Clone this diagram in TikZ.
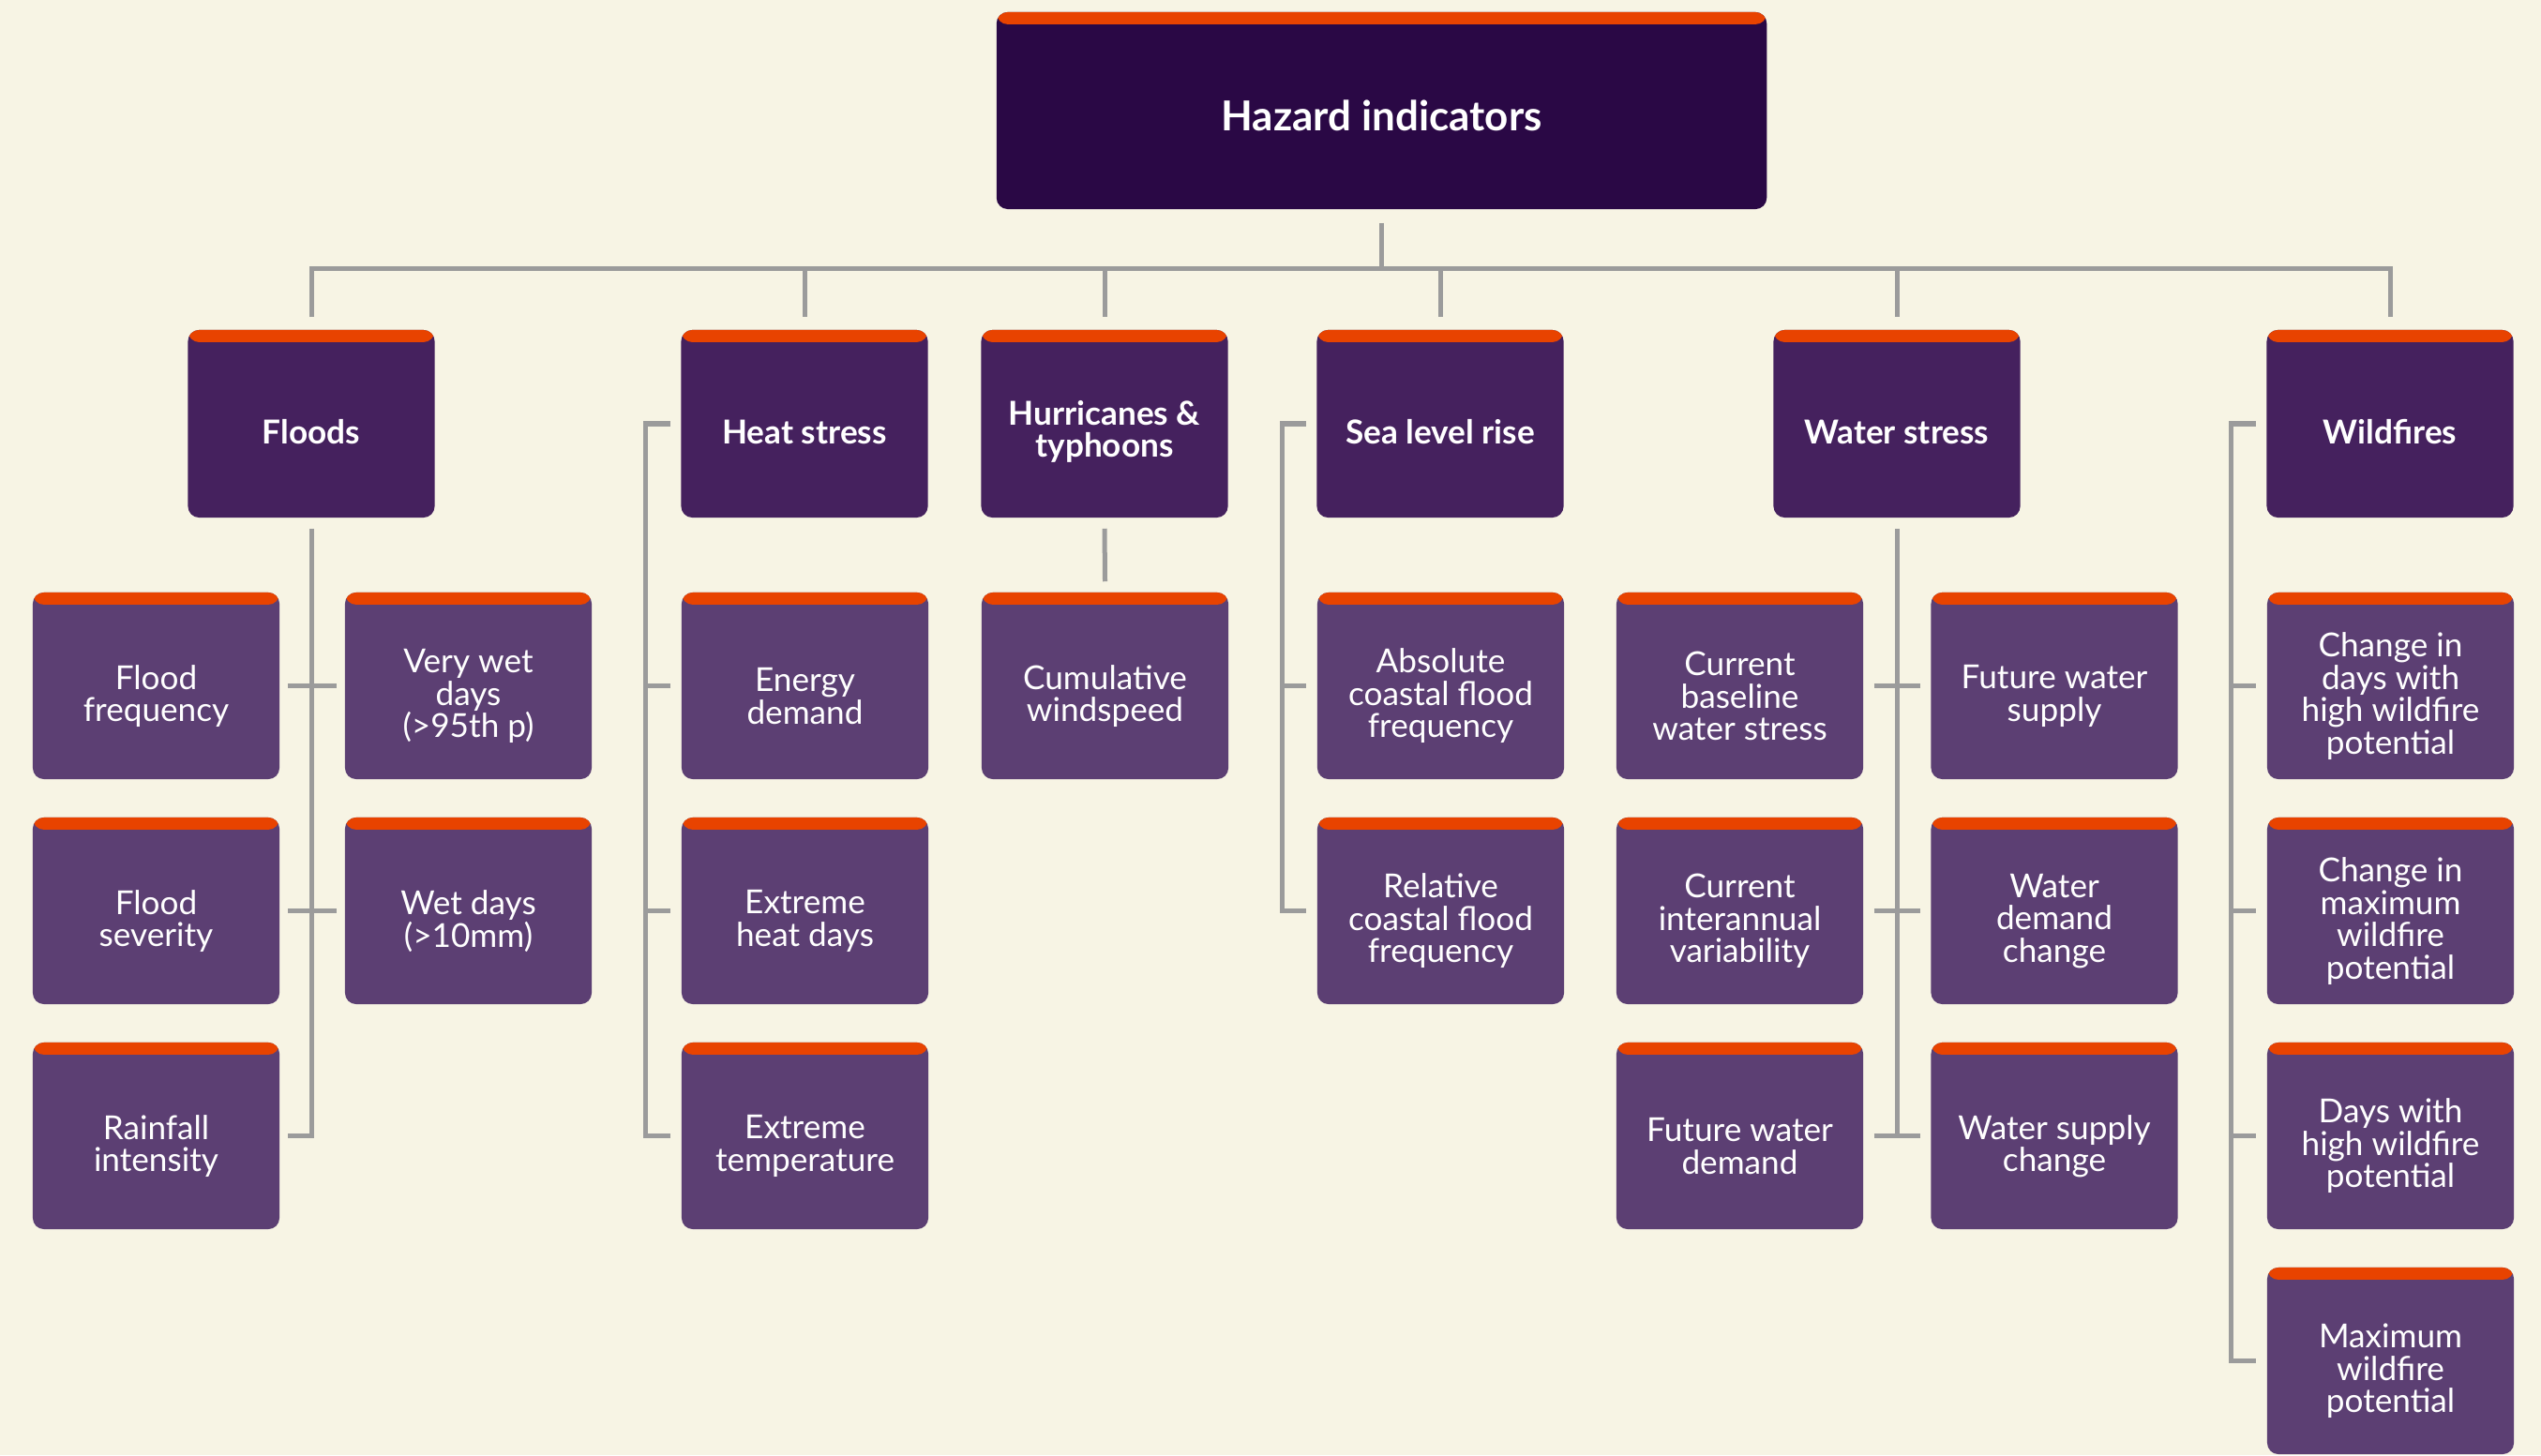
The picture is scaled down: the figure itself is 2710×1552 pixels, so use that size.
\documentclass[tikz,border=0pt]{standalone}
\usepackage{fontspec}
\setmainfont{Lato}
\definecolor{bgc}{HTML}{F7F4E4}
\definecolor{titlec}{HTML}{2A0845}
\definecolor{catc}{HTML}{45215E}
\definecolor{kidc}{HTML}{5C3F73}
\definecolor{barc}{HTML}{E84300}
\definecolor{linec}{HTML}{9B9B9B}
\newcommand\mkbox[6]{%
  \node[#2] (#1) at (#3,#4) {};
  \node[#2txt] (#1-t) at ([yshift=-#5]#1.center) {#6};}
\begin{document}
\begin{tikzpicture}[x=0.01cm,y=-0.01cm,
  boxbase/.style={rounded corners=0.12cm, inner sep=0pt, draw=none,
    path picture={\fill[barc] ([yshift=1pt]path picture bounding box.north west) rectangle ([yshift=-0.13cm]path picture bounding box.north east);}},
  titlebox/.style={boxbase, fill=titlec, minimum width=8.21cm, minimum height=2.1cm},
  catbox/.style={boxbase, fill=catc, minimum width=2.63cm, minimum height=2.0cm},
  kidbox/.style={boxbase, fill=kidc, minimum width=2.63cm, minimum height=1.99cm},
  titleboxtxt/.style={text=white, align=center, inner sep=0pt, font=\fontsize{12.5}{14}\selectfont\bfseries},
  catboxtxt/.style={text=white, align=center, inner sep=0pt, font=\fontsize{10}{9.6}\selectfont\bfseries},
  kidboxtxt/.style={text=white, align=center, inner sep=0pt, font=\fontsize{10}{9.8}\selectfont},
  conn/.style={draw=linec, line width=0.05cm, line join=miter}]
\fill[bgc] (0,0) rectangle (2710,1552);
\useasboundingbox (0,0) rectangle (2710,1552);
% title
\mkbox{haz}{titlebox}{1473.5}{118}{0.05cm}{Hazard indicators}
% categories
\mkbox{floods}{catbox}{332}{452}{0.085cm}{Floods}
\mkbox{heat}{catbox}{858}{452}{0.085cm}{Heat stress}
\mkbox{hurr}{catbox}{1178}{452}{0.085cm}{Hurricanes \&\\typhoons}
\mkbox{sea}{catbox}{1536}{452}{0.085cm}{Sea level rise}
\mkbox{water}{catbox}{2023}{452}{0.085cm}{Water stress}
\mkbox{wild}{catbox}{2549}{452}{0.085cm}{Wildfires}
% floods children
\mkbox{ff}{kidbox}{166.5}{731.5}{0.11cm}{Flood\\frequency}
\mkbox{vw}{kidbox}{499.5}{731.5}{0.11cm}{Very wet\\days\\(>95th p)}
\mkbox{fs}{kidbox}{166.5}{971.5}{0.11cm}{Flood\\severity}
\mkbox{wd}{kidbox}{499.5}{971.5}{0.11cm}{Wet days\\(>10mm)}
\mkbox{ri}{kidbox}{166.5}{1211.5}{0.11cm}{Rainfall\\intensity}
% heat children
\mkbox{ed}{kidbox}{858.5}{731.5}{0.11cm}{Energy\\demand}
\mkbox{ehd}{kidbox}{858.5}{971.5}{0.11cm}{Extreme\\heat days}
\mkbox{et}{kidbox}{858.5}{1211.5}{0.11cm}{Extreme\\temperature}
% hurricane child
\mkbox{cw}{kidbox}{1178.5}{731.5}{0.11cm}{Cumulative\\windspeed}
% sea children
\mkbox{acf}{kidbox}{1536.5}{731.5}{0.11cm}{Absolute\\coastal flood\\frequency}
\mkbox{rcf}{kidbox}{1536.5}{971.5}{0.11cm}{Relative\\coastal flood\\frequency}
% water children
\mkbox{cb}{kidbox}{1855.5}{731.5}{0.11cm}{Current\\baseline\\water stress}
\mkbox{ci}{kidbox}{1855.5}{971.5}{0.11cm}{Current\\interannual\\variability}
\mkbox{fwd}{kidbox}{1855.5}{1211.5}{0.11cm}{Future water\\demand}
\mkbox{fws}{kidbox}{2191}{731.5}{0.11cm}{Future water\\supply}
\mkbox{wdc}{kidbox}{2191}{971.5}{0.11cm}{Water\\demand\\change}
\mkbox{wsc}{kidbox}{2191}{1211.5}{0.11cm}{Water supply\\change}
% wildfire children
\mkbox{cd}{kidbox}{2549.5}{731.5}{0.11cm}{Change in\\days with\\high wildfire\\potential}
\mkbox{cm}{kidbox}{2549.5}{971.5}{0.11cm}{Change in\\maximum\\wildfire\\potential}
\mkbox{dw}{kidbox}{2549.5}{1211.5}{0.11cm}{Days with\\high wildfire\\potential}
\mkbox{mw}{kidbox}{2549.5}{1451.5}{0.11cm}{Maximum\\wildfire\\potential}
% top bus
\coordinate (bus) at (1473.5,287);
\draw[conn] ([yshift=-0.14cm]haz.south) -- (haz.south |- bus);
\draw[conn] ([yshift=0.13cm]floods.north) -- (floods.north |- bus) -- (wild.north |- bus) -- ([yshift=0.13cm]wild.north);
\foreach \c in {heat,hurr,sea,water}
  \draw[conn] (\c.north |- bus) -- ([yshift=0.13cm]\c.north);
% floods
\draw[conn] ([yshift=-0.11cm]floods.south) |- ([xshift=0.08cm]ri.east);
\draw[conn] ([xshift=0.08cm]ff.east) -- ([xshift=-0.08cm]vw.west);
\draw[conn] ([xshift=0.08cm]fs.east) -- ([xshift=-0.08cm]wd.west);
% heat
\draw[conn] ([xshift=-0.11cm]heat.west) -- ([xshift=-0.37cm]heat.west) |- ([xshift=-0.11cm]et.west);
\draw[conn] ([xshift=-0.37cm]ed.west) -- ([xshift=-0.11cm]ed.west);
\draw[conn] ([xshift=-0.37cm]ehd.west) -- ([xshift=-0.11cm]ehd.west);
% hurricanes
\draw[conn] ([yshift=-0.11cm]hurr.south) -- ([yshift=0.11cm]cw.north);
% sea
\draw[conn] ([xshift=-0.11cm]sea.west) -- ([xshift=-0.36cm]sea.west) |- ([xshift=-0.11cm]rcf.west);
\draw[conn] ([xshift=-0.36cm]acf.west) -- ([xshift=-0.11cm]acf.west);
% water
\draw[conn] ([yshift=-0.11cm]water.south) -- (water.south |- fwd.east);
\draw[conn] ([xshift=0.11cm]cb.east) -- ([xshift=-0.11cm]fws.west);
\draw[conn] ([xshift=0.11cm]ci.east) -- ([xshift=-0.11cm]wdc.west);
\draw[conn] ([xshift=0.11cm]fwd.east) -- ([xshift=-0.11cm]wsc.west);
% wildfires
\draw[conn] ([xshift=-0.11cm]wild.west) -- ([xshift=-0.37cm]wild.west) |- ([xshift=-0.11cm]mw.west);
\foreach \k in {cd,cm,dw}
  \draw[conn] ([xshift=-0.37cm]\k.west) -- ([xshift=-0.11cm]\k.west);
\end{tikzpicture}
\end{document}
